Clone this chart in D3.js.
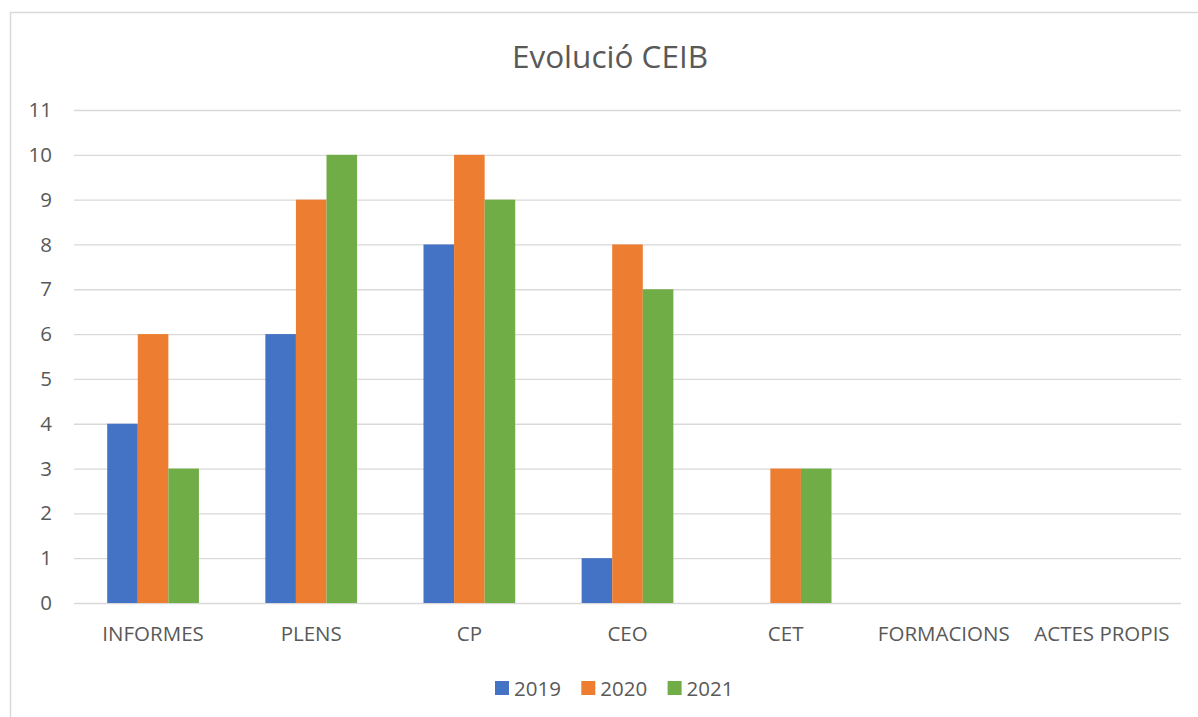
<!DOCTYPE html>
<html>
<head>
<meta charset="utf-8">
<script src="https://cdn.jsdelivr.net/npm/d3@7"></script>
<style>
  body { margin: 0; background: #fff; }
  svg { display: block; font-family: 'Open Sans', sans-serif; }
</style>
</head>
<body>
<div id="chart"></div>
<script>
// chart data
const categories = ['INFORMES', 'PLENS', 'CP', 'CEO', 'CET', 'FORMACIONS', 'ACTES PROPIS'];
const years = ['2019', '2020', '2021'];
const values2019 = [4, 6, 8, 1, 0, 0, 0];
const values2020 = [6, 9, 10, 8, 3, 0, 0];
const values2021 = [3, 10, 9, 7, 3, 0, 0];
const yTicks = [0, 1, 2, 3, 4, 5, 6, 7, 8, 9, 10, 11];
const colors = ['#4472c4', '#ed7d31', '#70ad47'];

const seriesByYear = { '2019': values2019, '2020': values2020, '2021': values2021 };
const rows = categories.map((c, i) => ({
  cat: c,
  vals: years.map(y => ({ year: y, value: seriesByYear[y][i] })),
}));

const width = 1198;
const height = 717;
const plot = { left: 74, right: 1181, top: 110, bottom: 603 };

const svg = d3.select('#chart')
  .append('svg')
  .attr('width', width)
  .attr('height', height);

// outer chart border (cropped on right/bottom in the original)
svg.append('rect')
  .attr('x', 10.5).attr('y', 12.5)
  .attr('width', width + 20).attr('height', height + 20)
  .attr('fill', '#fff')
  .attr('stroke', '#d9d9d9')
  .attr('stroke-width', 1.5);

svg.append('text')
  .attr('x', 610).attr('y', 68)
  .attr('text-anchor', 'middle')
  .attr('fill', '#595959')
  .style('font-size', '31.5px')
  .text('Evolució CEIB');

const x0 = d3.scaleBand()
  .domain(categories)
  .range([plot.left, plot.right])
  .paddingInner(0.42)
  .paddingOuter(0.21);

const x1 = d3.scaleBand()
  .domain(years)
  .range([0, x0.bandwidth()]);

const y = d3.scaleLinear()
  .domain([0, 11])
  .range([plot.bottom, plot.top]);

// gridlines + y labels
const yAxis = svg.append('g')
  .attr('transform', 'translate(' + plot.left + ',0)')
  .call(d3.axisLeft(y).tickValues(yTicks).tickSize(-(plot.right - plot.left)).tickPadding(22).tickFormat(d3.format('d')));
yAxis.select('.domain').remove();
yAxis.selectAll('line').attr('stroke', '#d9d9d9').attr('stroke-width', 1.3);
yAxis.selectAll('text')
  .attr('fill', '#595959')
  .style('font-size', '20.5px')
  .style('font-family', "'Open Sans', sans-serif");

// bars
const groups = svg.selectAll('.grp')
  .data(rows)
  .join('g')
  .attr('class', 'grp')
  .attr('transform', d => 'translate(' + x0(d.cat) + ',0)');

groups.selectAll('rect')
  .data(d => d.vals)
  .join('rect')
  .attr('x', d => x1(d.year))
  .attr('y', d => y(d.value))
  .attr('width', x1.bandwidth())
  .attr('height', d => y(0) - y(d.value))
  .attr('fill', (d, i) => colors[i]);

// x axis labels
const xAxis = svg.append('g')
  .attr('transform', 'translate(0,' + plot.bottom + ')')
  .call(d3.axisBottom(x0).tickSize(0).tickPadding(23.5));
xAxis.select('.domain').remove();
xAxis.selectAll('text')
  .attr('fill', '#595959')
  .style('font-size', '20.5px')
  .style('font-family', "'Open Sans', sans-serif");

// legend
const legend = svg.append('g')
  .attr('transform', 'translate(495,681)');
const item = legend.selectAll('g')
  .data(years)
  .join('g')
  .attr('transform', (d, i) => 'translate(' + i * 86.3 + ',0)');
item.append('rect')
  .attr('width', 14).attr('height', 14)
  .attr('fill', (d, i) => colors[i]);
item.append('text')
  .attr('x', 19).attr('y', 14.5)
  .attr('fill', '#595959')
  .style('font-size', '20.5px')
  .text(d => d);
</script>
</body>
</html>
